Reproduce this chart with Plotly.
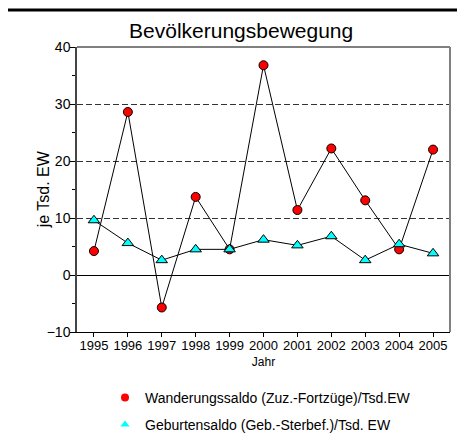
import plotly.graph_objects as go

years = [1995, 1996, 1997, 1998, 1999, 2000, 2001, 2002, 2003, 2004, 2005]
wanderung = [4.2, 28.6, -5.7, 13.7, 4.5, 36.8, 11.4, 22.2, 13.1, 4.5, 22.0]
geburten = [9.6, 5.6, 2.6, 4.5, 4.5, 6.2, 5.2, 6.8, 2.6, 5.4, 3.8]
y_ticks = [-10, 0, 10, 20, 30, 40]
y_minor = [-5, 5, 15, 25, 35]

name_w = "Wanderungssaldo (Zuz.-Fortzüge)/Tsd.EW"
name_g = "Geburtensaldo (Geb.-Sterbef.)/Tsd. EW"

ARIAL = "Liberation Sans, Arial, sans-serif"

# the page body adds an 8px margin; figure is sized to fill the rest of the window
W, H = 457, 434

fig = go.Figure()
fig.add_trace(go.Scatter(x=years, y=wanderung, mode="lines+markers", showlegend=False,
                         line=dict(color="black", width=1),
                         marker=dict(symbol="circle", size=9, color="#ff0000",
                                     line=dict(color="black", width=1))))
fig.add_trace(go.Scatter(x=years, y=geburten, mode="lines+markers", showlegend=False,
                         line=dict(color="black", width=1),
                         marker=dict(symbol="triangle-up", size=10, color="#00ffff",
                                     line=dict(color="black", width=1))))
# legend entries
fig.add_trace(go.Scatter(x=[None], y=[None], mode="markers", name=name_w,
                         legend="legend",
                         marker=dict(symbol="circle", size=8, color="#ff0000")))
fig.add_trace(go.Scatter(x=[None], y=[None], mode="markers", name=name_g,
                         legend="legend2",
                         marker=dict(symbol="triangle-up", size=8, color="#00ffff")))

fig.update_layout(
    width=W, height=H,
    margin=dict(l=69, r=15, t=39, b=110, autoexpand=False),
    paper_bgcolor="white", plot_bgcolor="white",
    title=dict(text="Bevölkerungsbewegung", font=dict(family=ARIAL, size=21, color="black"),
               xref="paper", x=0.44, xanchor="center", yref="container", y=1 - 23 / H,
               yanchor="middle", automargin=False),
    xaxis=dict(range=[1994.5, 2005.5], tickmode="array", tickvals=years, automargin=False,
               ticktext=[str(y) for y in years], showgrid=False, zeroline=False,
               showline=True, linecolor="black", linewidth=1,
               ticks="outside", ticklen=4, tickcolor="black", ticklabelstandoff=-3,
               tickfont=dict(family=ARIAL, size=13, color="black"),
               title=dict(text="Jahr", font=dict(family=ARIAL, size=12, color="black"), standoff=6)),
    yaxis=dict(range=[-10, 40], tickmode="array", tickvals=y_ticks, automargin=False,
               showgrid=True, gridcolor="#333333", griddash="6px,3px", gridwidth=1,
               zeroline=True, zerolinecolor="black", zerolinewidth=1,
               showline=True, linecolor="#444444", linewidth=1.5,
               ticks="outside", ticklen=5, tickcolor="black", ticklabelstandoff=-3,
               minor=dict(tickmode="array", tickvals=y_minor, ticks="outside", ticklen=3,
                          tickcolor="black", showgrid=False),
               tickfont=dict(family=ARIAL, size=14, color="black")),
    annotations=[dict(text="je Tsd. EW", textangle=-90, xref="paper", yref="paper",
                      x=(44 - 77) / 365, y=(332 - 189) / 285, xanchor="center", yanchor="middle",
                      showarrow=False, font=dict(family=ARIAL, size=16, color="black"))],
    legend=dict(xref="container", yref="container", x=97 / W, y=1 - 390 / H,
                xanchor="left", yanchor="middle", bgcolor="rgba(0,0,0,0)",
                font=dict(family=ARIAL, size=14, color="black"), itemclick=False),
    legend2=dict(xref="container", yref="container", x=97 / W, y=1 - 417 / H,
                 xanchor="left", yanchor="middle", bgcolor="rgba(0,0,0,0)",
                 font=dict(family=ARIAL, size=14, color="black"), itemclick=False),
    shapes=[
        dict(type="rect", xref="paper", yref="paper", x0=-0.195, x1=1.1, y0=-0.42, y1=1.13,
             line=dict(color="black", width=3), layer="below"),
        dict(type="line", xref="paper", yref="paper", x0=0, x1=1, y0=1, y1=1,
             line=dict(color="#808080", width=2)),
        dict(type="line", xref="paper", yref="paper", x0=1, x1=1, y0=0, y1=1,
             line=dict(color="#808080", width=2)),
    ],
)

fig.write_html("out.html")
